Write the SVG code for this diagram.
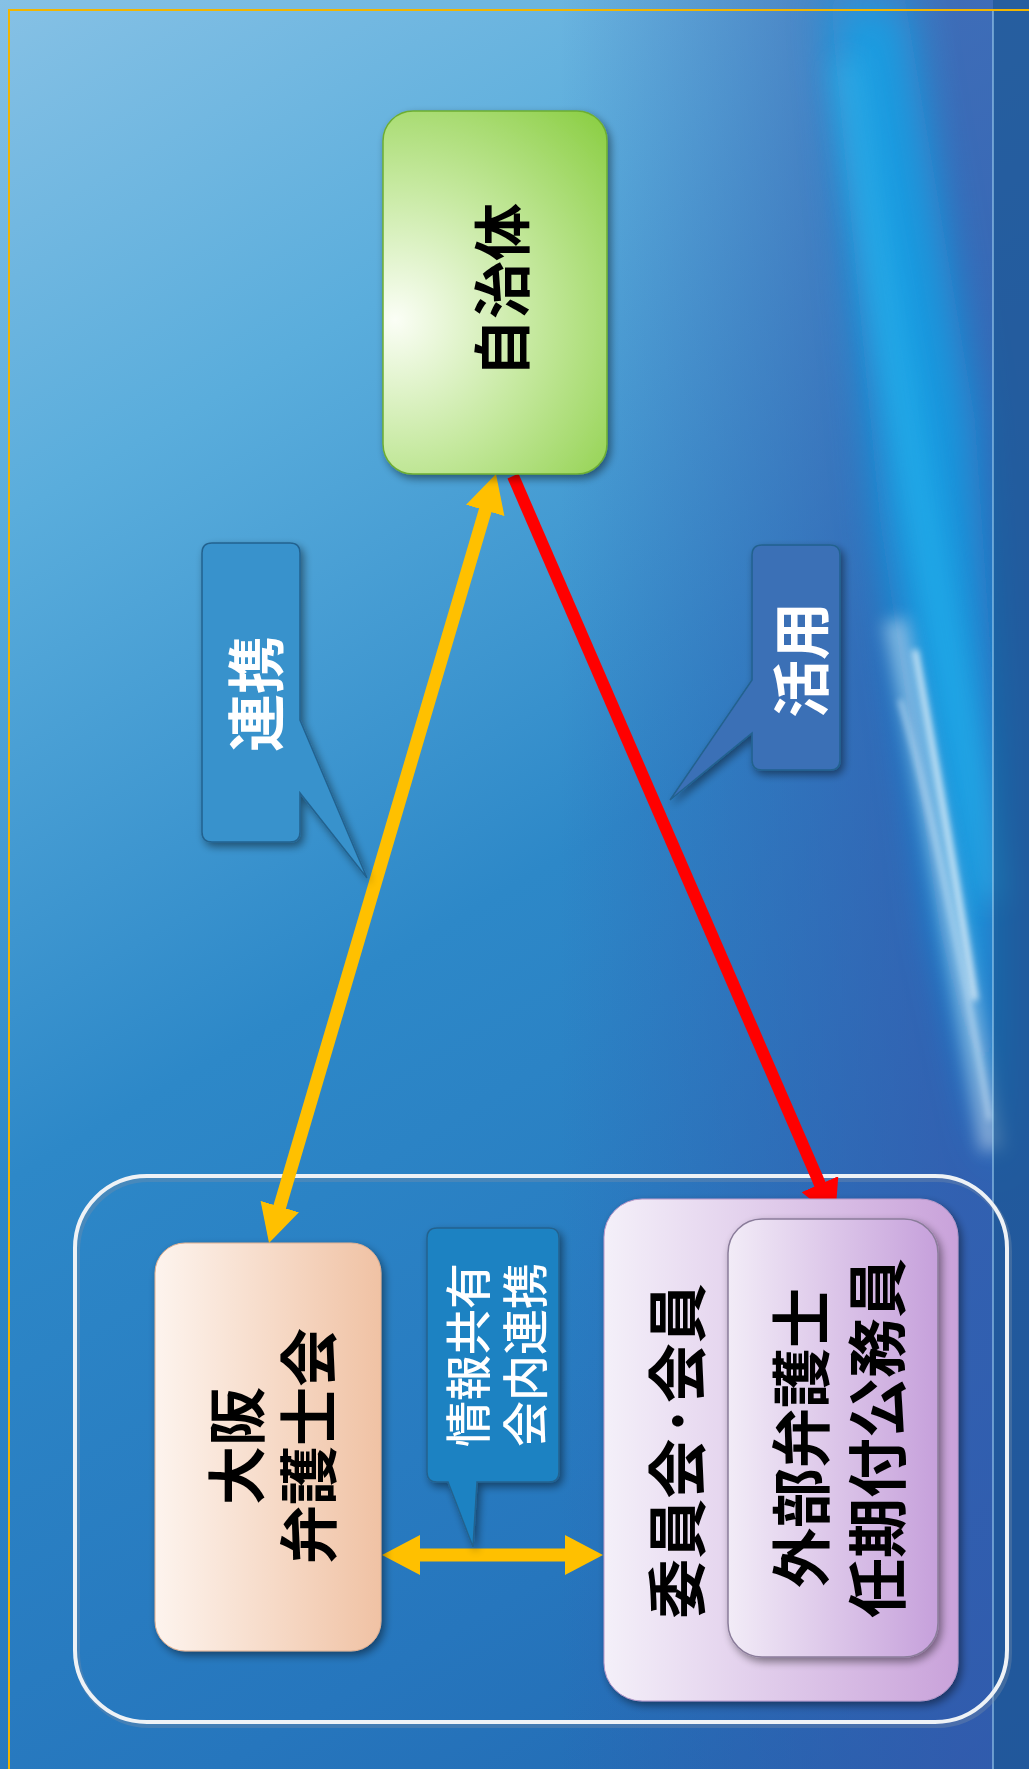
<svg xmlns="http://www.w3.org/2000/svg" width="1029" height="1769" viewBox="0 0 1029 1769">
<defs>
<linearGradient id="bg" gradientUnits="userSpaceOnUse" x1="0" y1="0" x2="1029" y2="1769">
<stop offset="0" stop-color="#86c1e5"/>
<stop offset="0.22" stop-color="#5aaddc"/>
<stop offset="0.5" stop-color="#2d88c8"/>
<stop offset="0.8" stop-color="#2676bd"/>
<stop offset="1" stop-color="#2266b0"/>
</linearGradient>
<linearGradient id="bgRight" gradientUnits="userSpaceOnUse" x1="560" y1="0" x2="960" y2="0">
<stop offset="0" stop-color="#3558ac" stop-opacity="0"/>
<stop offset="1" stop-color="#3558ac" stop-opacity="0.75"/>
</linearGradient>
<filter id="blur30" x="-50%" y="-50%" width="200%" height="200%"><feGaussianBlur stdDeviation="22"/></filter>
<filter id="blur14" x="-50%" y="-50%" width="200%" height="200%"><feGaussianBlur stdDeviation="14"/></filter>
<filter id="blur8" x="-50%" y="-50%" width="200%" height="200%"><feGaussianBlur stdDeviation="8"/></filter>
<filter id="blur3" x="-50%" y="-50%" width="200%" height="200%"><feGaussianBlur stdDeviation="3"/></filter>
<filter id="shadow" x="-20%" y="-20%" width="140%" height="140%">
<feGaussianBlur in="SourceAlpha" stdDeviation="4"/>
<feOffset dx="3" dy="4" result="b"/>
<feComponentTransfer><feFuncA type="linear" slope="0.45"/></feComponentTransfer>
<feMerge><feMergeNode/><feMergeNode in="SourceGraphic"/></feMerge>
</filter>
<radialGradient id="gGreen" gradientUnits="userSpaceOnUse" cx="400" cy="320" r="300" fx="395" fy="320">
<stop offset="0" stop-color="#fbfef6"/>
<stop offset="0.45" stop-color="#c6e9a0"/>
<stop offset="1" stop-color="#86cc3c"/>
</radialGradient>
<linearGradient id="gPeach" x1="0" y1="0" x2="1" y2="0">
<stop offset="0" stop-color="#fdf4ee"/>
<stop offset="1" stop-color="#f0c2a4"/>
</linearGradient>
<linearGradient id="gLav" x1="0" y1="0" x2="1" y2="0">
<stop offset="0" stop-color="#f4f0f9"/>
<stop offset="1" stop-color="#c9a2da"/>
</linearGradient>
<linearGradient id="gLav2" x1="0" y1="0" x2="1" y2="0">
<stop offset="0" stop-color="#f2ecf7"/>
<stop offset="1" stop-color="#c6a0db"/>
</linearGradient>
<marker id="headY" markerUnits="userSpaceOnUse" markerWidth="40" markerHeight="40" refX="14" refY="20" orient="auto-start-reverse">
<path d="M0,0 L38,20 L0,40 Z" fill="#ffc000"/>
</marker>
<marker id="headR" markerUnits="userSpaceOnUse" markerWidth="40" markerHeight="40" refX="14" refY="20" orient="auto-start-reverse">
<path d="M0,0 L38,20 L0,40 Z" fill="#ff0000"/>
</marker>
<style>
.lbl{font-family:"Noto Sans CJK JP","Noto Sans CJK SC",sans-serif;font-weight:bold;fill:#000;text-anchor:middle;dominant-baseline:central}
.wl{font-family:"Noto Sans CJK JP","Noto Sans CJK SC",sans-serif;font-weight:bold;fill:#fff;text-anchor:middle;dominant-baseline:central}
.call{stroke:#23628f;stroke-width:1.5}
.yl{stroke:#ffc000;stroke-width:13;fill:none}
.rl{stroke:#ff0000;stroke-width:12;fill:none}
</style>
</defs>

<!-- background -->
<rect x="0" y="0" width="1029" height="1769" fill="url(#bg)"/>
<rect x="0" y="0" width="1029" height="1769" fill="url(#bgRight)"/>
<path d="M830,0 L905,0 L975,420 L998,760 L998,1180 L940,930 L880,520 Z" fill="#0aa8ec" opacity="0.75" filter="url(#blur30)"/>
<path d="M845,60 C880,300 930,560 995,900" stroke="#30c4f6" stroke-width="26" fill="none" opacity="0.45" filter="url(#blur14)"/>
<path d="M895,620 C925,760 955,930 992,1150" stroke="#ffffff" stroke-width="24" fill="none" opacity="0.4" filter="url(#blur8)"/>
<path d="M915,650 C935,760 955,870 975,1000" stroke="#ffffff" stroke-width="6" fill="none" opacity="0.75" filter="url(#blur3)"/>
<path d="M900,700 C930,800 960,950 990,1120" stroke="#e6f7ff" stroke-width="4" fill="none" opacity="0.6" filter="url(#blur3)"/>
<rect x="993" y="0" width="36" height="1769" fill="#17558f" opacity="0.6"/>
<line x1="993" y1="10" x2="993" y2="1769" stroke="#a8d8f4" stroke-width="1.5" opacity="0.7"/>
<path d="M9,1769 V10 H1029" stroke="#f2b500" stroke-width="2" fill="none"/>

<!-- outer group frame -->
<g id="group-frame">
<rect x="75" y="1176" width="932" height="546" rx="72" ry="72" fill="none" stroke="#7a8fa8" stroke-width="6" opacity="0.35" transform="translate(2,3)"/>
<rect x="75" y="1176" width="932" height="546" rx="72" ry="72" fill="none" stroke="#eef2f6" stroke-width="4"/>
</g>

<!-- connectors -->
<g id="connectors">
<line class="yl" x1="489.2" y1="497" x2="275.8" y2="1220" marker-start="url(#headY)" marker-end="url(#headY)"/>
<line class="rl" x1="513" y1="476" x2="825.5" y2="1197" marker-end="url(#headR)"/>
<line class="yl" x1="406" y1="1555" x2="579" y2="1555" marker-start="url(#headY)" marker-end="url(#headY)"/>
</g>

<!-- 自治体 -->
<g id="node-jichitai" filter="url(#shadow)">
<rect x="383" y="111" width="224" height="363" rx="30" ry="30" fill="url(#gGreen)" stroke="#6eae32" stroke-width="1.5"/>
<text class="lbl" font-size="58" transform="translate(499,290) rotate(-90)">自治体</text>
</g>

<!-- 大阪弁護士会 -->
<g id="node-osaka" filter="url(#shadow)">
<rect x="155" y="1243" width="226" height="408" rx="30" ry="30" fill="url(#gPeach)" stroke="#e2b090" stroke-width="1"/>
<text class="lbl" font-size="59" transform="translate(269,1446) rotate(-90)"><tspan x="0" y="-36">大阪</tspan><tspan x="0" y="36">弁護士会</tspan></text>
</g>

<!-- 委員会・会員 -->
<g id="node-iinkai" filter="url(#shadow)">
<rect x="604" y="1199" width="354" height="502" rx="38" ry="38" fill="url(#gLav)" stroke="#b898c8" stroke-width="1"/>
<text class="lbl" font-size="60" transform="translate(673,1451) rotate(-90)">委員会·会員</text>
</g>

<!-- 外部弁護士・任期付公務員 -->
<g id="node-gaibu" filter="url(#shadow)">
<rect x="728" y="1219" width="210" height="438" rx="34" ry="34" fill="url(#gLav2)" stroke="#8a7c9a" stroke-width="1.5"/>
<text class="lbl" font-size="60" transform="translate(835,1438) rotate(-90)"><tspan x="0" y="-38">外部弁護士</tspan><tspan x="0" y="38">任期付公務員</tspan></text>
</g>

<!-- callout 連携 -->
<g id="callout-renkei" filter="url(#shadow)">
<path class="call" fill="#3792cc" d="M212,543 H290 Q300,543 300,553 V720 L367,878 L300,793 V832 Q300,842 290,842 H212 Q202,842 202,832 V553 Q202,543 212,543 Z"/>
<text class="wl" font-size="58" transform="translate(253,694) rotate(-90)">連携</text>
</g>

<!-- callout 活用 -->
<g id="callout-katsuyou" filter="url(#shadow)">
<path class="call" fill="#3a6fb6" d="M762,545 H830 Q840,545 840,555 V760 Q840,770 830,770 H762 Q752,770 752,760 V733 L670,800 L752,680 V555 Q752,545 762,545 Z"/>
<text class="wl" font-size="58" transform="translate(798,660) rotate(-90)">活用</text>
</g>

<!-- callout 情報共有 -->
<g id="callout-jouhou" filter="url(#shadow)">
<path class="call" fill="#1c82c2" d="M437,1228 H549 Q559,1228 559,1238 V1472 Q559,1482 549,1482 H477 L473,1547 L448,1482 H437 Q427,1482 427,1472 V1238 Q427,1228 437,1228 Z"/>
<text class="wl" font-size="46" style="font-weight:500" transform="translate(493.5,1355) rotate(-90)"><tspan x="0" y="-28.5">情報共有</tspan><tspan x="0" y="28.5">会内連携</tspan></text>
</g>
</svg>
